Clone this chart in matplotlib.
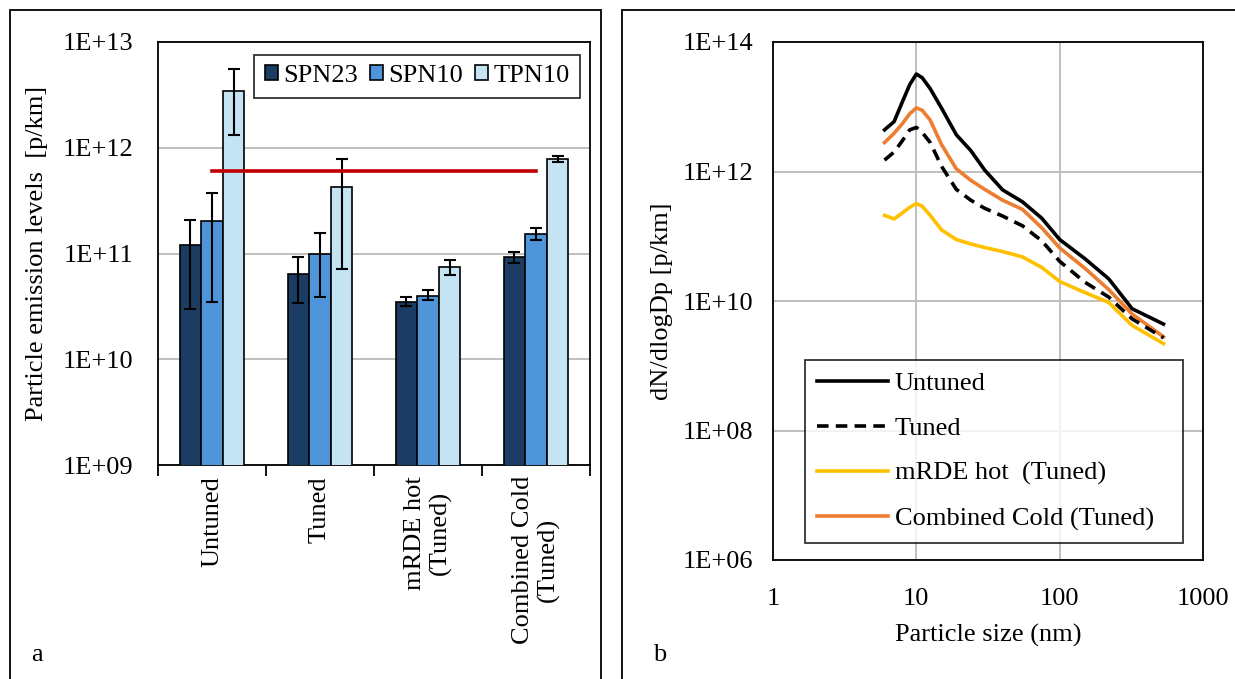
import numpy as np
import matplotlib
matplotlib.use('Agg')
import matplotlib.pyplot as plt
from matplotlib.patches import Rectangle

plt.rcParams['font.family'] = ['Liberation Serif', 'DejaVu Serif']
plt.rcParams['font.size'] = 19

# ---- Panel a data (bar chart) ----
cycles = ['Untuned', 'Tuned', 'mRDE hot\n(Tuned)', 'Combined Cold\n(Tuned)']
series = ['SPN23', 'SPN10', 'TPN10']
spn23 = [1.2e11, 6.4e10, 3.5e10, 9.2e10]
spn10 = [2.05e11, 9.9e10, 4.0e10, 1.54e11]
tpn10 = [3.45e12, 4.3e11, 7.4e10, 7.9e11]
spn23_lo = [3.0e10, 3.4e10, 3.2e10, 8.05e10]
spn23_hi = [2.07e11, 9.3e10, 3.9e10, 1.04e11]
spn10_lo = [3.45e10, 3.85e10, 3.6e10, 1.33e11]
spn10_hi = [3.75e11, 1.57e11, 4.5e10, 1.76e11]
tpn10_lo = [1.31e12, 7.2e10, 6.3e10, 7.4e11]
tpn10_hi = [5.6e12, 7.9e11, 8.6e10, 8.4e11]
limit = 6e11
bar_colors = ['#1b3d63', '#4f95d9', '#c4e4f4']

# ---- Panel b data (size distributions) ----
size_nm = [6, 7, 8, 9, 10, 11, 12.5, 15, 19, 24, 30, 40, 55, 75, 100, 150, 220, 320, 530]
untuned = [4.4e12, 5.9e12, 1.2e13, 2.2e13, 3.2e13, 2.8e13, 1.9e13, 9.5e12, 3.7e12, 2.1e12,
           1.05e12, 5.2e11, 3.4e11, 1.9e11, 8.9e10, 4.5e10, 2.2e10, 7.6e9, 4.4e9]
tuned = [1.5e12, 2.0e12, 3.0e12, 4.4e12, 4.8e12, 4.0e12, 2.8e12, 1.2e12, 5.3e11, 3.6e11,
         2.7e11, 2.05e11, 1.45e11, 8.5e10, 4.1e10, 1.95e10, 1.15e10, 5.3e9, 2.7e9]
mrde_hot = [2.1e11, 1.85e11, 2.3e11, 2.8e11, 3.2e11, 2.9e11, 2.1e11, 1.25e11, 8.9e10, 7.6e10,
            6.7e10, 5.8e10, 4.8e10, 3.3e10, 2.0e10, 1.35e10, 9.5e9, 4.2e9, 2.2e9]
comb_cold = [2.8e12, 3.9e12, 5.5e12, 7.8e12, 9.6e12, 8.8e12, 6.2e12, 2.6e12, 1.1e12, 7.3e11,
             5.3e11, 3.6e11, 2.6e11, 1.35e11, 6.6e10, 3.2e10, 1.5e10, 6.3e9, 2.8e9]

fig = plt.figure(figsize=(12.35, 6.79), dpi=100)

# Panel borders.
fig.patches.append(Rectangle((10 / 1235, -0.05), 591 / 1235, 1.05 - 10 / 679,
                             transform=fig.transFigure, fill=False, ec='black', lw=1.3))
fig.patches.append(Rectangle((622 / 1235, -0.05), 0.6, 1.05 - 10 / 679,
                             transform=fig.transFigure, fill=False, ec='black', lw=1.3))
fig.text(37 / 1235, 1 - 655 / 679, 'a', ha='center', va='center', fontsize=19)
fig.text(660 / 1235, 1 - 655 / 679, 'b', ha='center', va='center', fontsize=19)

# ---- Panel a ----
ax = fig.add_axes([158 / 1235, 1 - 465 / 679, 432 / 1235, 423 / 679])
x = np.arange(len(cycles))
w = 0.2
vals = [spn23, spn10, tpn10]
los = [spn23_lo, spn10_lo, tpn10_lo]
his = [spn23_hi, spn10_hi, tpn10_hi]
for i in range(3):
  v = np.array(vals[i])
  err = [v - np.array(los[i]), np.array(his[i]) - v]
  ax.bar(x + (i - 1) * w, v, w, color=bar_colors[i], edgecolor='black', linewidth=1.2,
         label=series[i], zorder=3)
  ax.errorbar(x + (i - 1) * w, v, yerr=err, fmt='none', ecolor='black', elinewidth=1.5,
              capsize=4, capthick=1.5, zorder=4)
ax.plot([x[0], x[-1]], [limit, limit], color='#c00000', lw=2.6, zorder=5)
ax.set_yscale('log')
ax.set_ylim(1e9, 1e13)
ax.set_xlim(-0.5, len(cycles) - 0.5)
ax.set_yticks([1e9, 1e10, 1e11, 1e12, 1e13])
ax.set_yticklabels(['1E+09', '1E+10', '1E+11', '1E+12', '1E+13'])
ax.minorticks_off()
ax.set_xticks(x)
ax.set_xticklabels(cycles, rotation=90, va='top', ha='center')
ax.set_xticks(np.arange(len(cycles) + 1) - 0.5, minor=True)
ax.tick_params(axis='x', which='major', length=0, pad=8)
ax.tick_params(axis='x', which='minor', length=8, width=1.3, direction='out')
ax.tick_params(axis='y', length=0, pad=18)
ax.yaxis.grid(True, color='#bfbfbf', lw=1.4, zorder=0)
ax.set_axisbelow(True)
for s in ax.spines.values():
  s.set_linewidth(1.3)
ax.set_ylabel('Particle emission levels  [p/km]')
ax.yaxis.set_label_coords(-110 / 432, 0.5)
leg = ax.legend(ncol=3, loc='upper right', bbox_to_anchor=(0.977, 0.97), frameon=True,
                fancybox=False, edgecolor='black', handlelength=0.5, handleheight=0.5,
                handletextpad=0.2, columnspacing=0.45, borderpad=0.4, borderaxespad=0,
                fontsize=19)
leg.get_frame().set_linewidth(1.3)

# ---- Panel b ----
bx = fig.add_axes([773 / 1235, 1 - 560 / 679, 430 / 1235, 518 / 679])
bx.plot(size_nm, untuned, color='black', lw=2.6, label='Untuned', zorder=4)
bx.plot(size_nm, tuned, color='black', lw=2.6, dashes=(3.2, 2.0), label='Tuned', zorder=4)
bx.plot(size_nm, mrde_hot, color='#ffc000', lw=2.6, label='mRDE hot  (Tuned)', zorder=3)
bx.plot(size_nm, comb_cold, color='#ed7d31', lw=2.6, label='Combined Cold (Tuned)', zorder=3)
bx.set_xscale('log')
bx.set_yscale('log')
bx.set_xlim(1, 1000)
bx.set_ylim(1e6, 1e14)
bx.set_xticks([1, 10, 100, 1000])
bx.set_xticklabels(['1', '10', '100', '1000'])
bx.set_yticks([1e6, 1e8, 1e10, 1e12, 1e14])
bx.set_yticklabels(['1E+06', '1E+08', '1E+10', '1E+12', '1E+14'])
bx.minorticks_off()
bx.tick_params(axis='both', length=0)
bx.tick_params(axis='x', pad=20)
bx.tick_params(axis='y', pad=14)
bx.grid(True, color='#bfbfbf', lw=1.4, zorder=0)
bx.set_axisbelow(True)
for s in bx.spines.values():
  s.set_linewidth(1.3)
bx.set_xlabel('Particle size (nm)', labelpad=10)
bx.set_ylabel('dN/dlogDp [p/km]')
bx.yaxis.set_label_coords(-100 / 430, 0.5)
leg2 = bx.legend(loc='lower left', bbox_to_anchor=(0.074, 0.033, 0.879, 0.35), mode='expand',
                 frameon=True, fancybox=False, edgecolor='black', handlelength=2.7,
                 handletextpad=0.25, labelspacing=0.82, borderpad=0.45, borderaxespad=0,
                 fontsize=19)
leg2.get_frame().set_linewidth(1.3)

fig.savefig('out.png', dpi=100)
